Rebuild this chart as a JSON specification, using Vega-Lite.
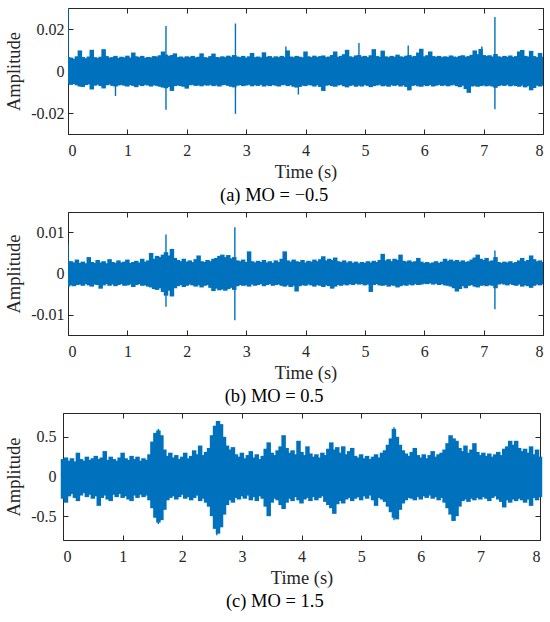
{
  "$schema": "https://vega.github.io/schema/vega-lite/v6.json",
  "padding": {"left": 4, "top": 7, "right": 4, "bottom": 4},
  "background": "white",
  "spacing": 6,
  "config": {
    "view": {"stroke": "#262626", "strokeWidth": 1},
    "axis": {
      "grid": false,
      "domainColor": "#262626",
      "tickColor": "#262626",
      "tickSize": -5,
      "labelFont": "Liberation Serif",
      "labelFontSize": 16,
      "labelColor": "#262626",
      "titleFont": "Liberation Serif",
      "titleFontSize": 18.5,
      "titleFontWeight": "normal",
      "titleColor": "#262626"
    },
    "axisX": {"labelPadding": 13, "titlePadding": 4},
    "axisY": {"labelPadding": 9, "titlePadding": 7},
    "title": {"font": "Liberation Serif", "fontSize": 18.5, "fontWeight": "normal", "color": "#000000"}
  },
  "datasets": {
    "a": [
      {"t":0,"hi":0.0066,"lo":-0.0061},{"t":0.05,"hi":0.0064,"lo":-0.0066},{"t":0.1,"hi":0.0058,"lo":-0.0062},{"t":0.15,"hi":0.007,"lo":-0.0068},
      {"t":0.2,"hi":0.0098,"lo":-0.0074},{"t":0.25,"hi":0.0067,"lo":-0.0076},{"t":0.3,"hi":0.0061,"lo":-0.0067},{"t":0.35,"hi":0.0069,"lo":-0.0064},
      {"t":0.4,"hi":0.0101,"lo":-0.0088},{"t":0.45,"hi":0.0066,"lo":-0.007},{"t":0.5,"hi":0.0062,"lo":-0.0065},{"t":0.55,"hi":0.0068,"lo":-0.0072},
      {"t":0.6,"hi":0.0104,"lo":-0.0083},{"t":0.65,"hi":0.0071,"lo":-0.0068},{"t":0.7,"hi":0.0064,"lo":-0.0065},{"t":0.75,"hi":0.0066,"lo":-0.0071},
      {"t":0.8,"hi":0.0072,"lo":-0.0074},{"t":0.85,"hi":0.0062,"lo":-0.0069},{"t":0.9,"hi":0.0068,"lo":-0.0066},{"t":0.95,"hi":0.0065,"lo":-0.007},
      {"t":1,"hi":0.0073,"lo":-0.0074},{"t":1.05,"hi":0.0064,"lo":-0.0067},{"t":1.1,"hi":0.0088,"lo":-0.0071},{"t":1.15,"hi":0.007,"lo":-0.0077},
      {"t":1.2,"hi":0.0066,"lo":-0.0068},{"t":1.25,"hi":0.0072,"lo":-0.0072},{"t":1.3,"hi":0.0063,"lo":-0.0066},{"t":1.35,"hi":0.0067,"lo":-0.0069},
      {"t":1.4,"hi":0.0065,"lo":-0.0074},{"t":1.45,"hi":0.0071,"lo":-0.0068},{"t":1.5,"hi":0.0069,"lo":-0.0071},{"t":1.55,"hi":0.0075,"lo":-0.0075},
      {"t":1.6,"hi":0.0093,"lo":-0.0079},{"t":1.65,"hi":0.0078,"lo":-0.0082},{"t":1.7,"hi":0.0072,"lo":-0.0076},{"t":1.75,"hi":0.0076,"lo":-0.0095},
      {"t":1.8,"hi":0.0084,"lo":-0.0072},{"t":1.85,"hi":0.0066,"lo":-0.0069},{"t":1.9,"hi":0.0069,"lo":-0.0072},{"t":1.95,"hi":0.0064,"lo":-0.0075},
      {"t":2,"hi":0.007,"lo":-0.0084},{"t":2.05,"hi":0.0066,"lo":-0.0068},{"t":2.1,"hi":0.0072,"lo":-0.0066},{"t":2.15,"hi":0.0065,"lo":-0.0071},
      {"t":2.2,"hi":0.0068,"lo":-0.0069},{"t":2.25,"hi":0.0084,"lo":-0.0073},{"t":2.3,"hi":0.0066,"lo":-0.0067},{"t":2.35,"hi":0.0064,"lo":-0.007},
      {"t":2.4,"hi":0.0071,"lo":-0.0066},{"t":2.45,"hi":0.0083,"lo":-0.0072},{"t":2.5,"hi":0.0067,"lo":-0.0069},{"t":2.55,"hi":0.0065,"lo":-0.0074},
      {"t":2.6,"hi":0.007,"lo":-0.0068},{"t":2.65,"hi":0.0066,"lo":-0.0066},{"t":2.7,"hi":0.0073,"lo":-0.0071},{"t":2.75,"hi":0.0068,"lo":-0.0075},
      {"t":2.8,"hi":0.0076,"lo":-0.0078},{"t":2.85,"hi":0.0069,"lo":-0.007},{"t":2.9,"hi":0.0066,"lo":-0.0067},{"t":2.95,"hi":0.0072,"lo":-0.0072},
      {"t":3,"hi":0.0064,"lo":-0.0069},{"t":3.05,"hi":0.007,"lo":-0.0066},{"t":3.1,"hi":0.0086,"lo":-0.0073},{"t":3.15,"hi":0.0066,"lo":-0.0068},
      {"t":3.2,"hi":0.0069,"lo":-0.0071},{"t":3.25,"hi":0.0065,"lo":-0.0066},{"t":3.3,"hi":0.0089,"lo":-0.0074},{"t":3.35,"hi":0.0068,"lo":-0.0069},
      {"t":3.4,"hi":0.0071,"lo":-0.0072},{"t":3.45,"hi":0.0064,"lo":-0.0067},{"t":3.5,"hi":0.007,"lo":-0.007},{"t":3.55,"hi":0.0066,"lo":-0.0074},
      {"t":3.6,"hi":0.0072,"lo":-0.0068},{"t":3.65,"hi":0.0067,"lo":-0.0066},{"t":3.7,"hi":0.0098,"lo":-0.0072},{"t":3.75,"hi":0.0069,"lo":-0.0068},
      {"t":3.8,"hi":0.0066,"lo":-0.0075},{"t":3.85,"hi":0.0072,"lo":-0.0079},{"t":3.9,"hi":0.0068,"lo":-0.0076},{"t":3.95,"hi":0.0065,"lo":-0.007},
      {"t":4,"hi":0.0093,"lo":-0.0072},{"t":4.05,"hi":0.007,"lo":-0.0066},{"t":4.1,"hi":0.0066,"lo":-0.0069},{"t":4.15,"hi":0.0073,"lo":-0.0074},
      {"t":4.2,"hi":0.0067,"lo":-0.0068},{"t":4.25,"hi":0.0071,"lo":-0.0076},{"t":4.3,"hi":0.0074,"lo":-0.0095},{"t":4.35,"hi":0.0066,"lo":-0.007},
      {"t":4.4,"hi":0.0069,"lo":-0.0067},{"t":4.45,"hi":0.0076,"lo":-0.0072},{"t":4.5,"hi":0.0093,"lo":-0.0075},{"t":4.55,"hi":0.0068,"lo":-0.0069},
      {"t":4.6,"hi":0.0072,"lo":-0.0066},{"t":4.65,"hi":0.008,"lo":-0.0073},{"t":4.7,"hi":0.0101,"lo":-0.0078},{"t":4.75,"hi":0.007,"lo":-0.0071},
      {"t":4.8,"hi":0.0066,"lo":-0.0068},{"t":4.85,"hi":0.0074,"lo":-0.0075},{"t":4.9,"hi":0.0076,"lo":-0.007},{"t":4.95,"hi":0.0069,"lo":-0.0074},
      {"t":5,"hi":0.0072,"lo":-0.0067},{"t":5.05,"hi":0.0066,"lo":-0.0071},{"t":5.1,"hi":0.0075,"lo":-0.0077},{"t":5.15,"hi":0.0104,"lo":-0.0072},
      {"t":5.2,"hi":0.0071,"lo":-0.0069},{"t":5.25,"hi":0.0068,"lo":-0.0066},{"t":5.3,"hi":0.0097,"lo":-0.0073},{"t":5.35,"hi":0.007,"lo":-0.007},
      {"t":5.4,"hi":0.0066,"lo":-0.0075},{"t":5.45,"hi":0.0072,"lo":-0.0068},{"t":5.5,"hi":0.0068,"lo":-0.0071},{"t":5.55,"hi":0.0078,"lo":-0.0067},
      {"t":5.6,"hi":0.007,"lo":-0.0074},{"t":5.65,"hi":0.0067,"lo":-0.0069},{"t":5.7,"hi":0.0073,"lo":-0.0076},{"t":5.75,"hi":0.0076,"lo":-0.0092},
      {"t":5.8,"hi":0.0069,"lo":-0.0071},{"t":5.85,"hi":0.0072,"lo":-0.0068},{"t":5.9,"hi":0.0088,"lo":-0.0073},{"t":5.95,"hi":0.0106,"lo":-0.0075},
      {"t":6,"hi":0.007,"lo":-0.0069},{"t":6.05,"hi":0.0075,"lo":-0.0072},{"t":6.1,"hi":0.0093,"lo":-0.0067},{"t":6.15,"hi":0.0071,"lo":-0.0074},
      {"t":6.2,"hi":0.0068,"lo":-0.007},{"t":6.25,"hi":0.0072,"lo":-0.0066},{"t":6.3,"hi":0.0066,"lo":-0.0071},{"t":6.35,"hi":0.007,"lo":-0.0068},
      {"t":6.4,"hi":0.0067,"lo":-0.0073},{"t":6.45,"hi":0.0074,"lo":-0.0069},{"t":6.5,"hi":0.0069,"lo":-0.0066},{"t":6.55,"hi":0.0066,"lo":-0.0072},
      {"t":6.6,"hi":0.0072,"lo":-0.0077},{"t":6.65,"hi":0.0075,"lo":-0.007},{"t":6.7,"hi":0.0068,"lo":-0.0086},{"t":6.75,"hi":0.0071,"lo":-0.0104},
      {"t":6.8,"hi":0.0077,"lo":-0.0074},{"t":6.85,"hi":0.0098,"lo":-0.0071},{"t":6.9,"hi":0.008,"lo":-0.0075},{"t":6.95,"hi":0.0105,"lo":-0.0072},
      {"t":7,"hi":0.0076,"lo":-0.0069},{"t":7.05,"hi":0.0072,"lo":-0.0073},{"t":7.1,"hi":0.0075,"lo":-0.007},{"t":7.15,"hi":0.0069,"lo":-0.0074},
      {"t":7.2,"hi":0.0081,"lo":-0.008},{"t":7.25,"hi":0.007,"lo":-0.0072},{"t":7.3,"hi":0.0066,"lo":-0.0068},{"t":7.35,"hi":0.0072,"lo":-0.0071},
      {"t":7.4,"hi":0.0068,"lo":-0.0066},{"t":7.45,"hi":0.0074,"lo":-0.0073},{"t":7.5,"hi":0.0067,"lo":-0.0069},{"t":7.55,"hi":0.0071,"lo":-0.0072},
      {"t":7.6,"hi":0.0093,"lo":-0.0075},{"t":7.65,"hi":0.01,"lo":-0.007},{"t":7.7,"hi":0.0072,"lo":-0.0078},{"t":7.75,"hi":0.0069,"lo":-0.0072},
      {"t":7.8,"hi":0.0096,"lo":-0.0092},{"t":7.85,"hi":0.0071,"lo":-0.0081},{"t":7.9,"hi":0.0066,"lo":-0.007},{"t":7.95,"hi":0.0086,"lo":-0.0074},
      {"t":8,"hi":0.0068,"lo":-0.0069}
    ],
    "as": [
      {"t":0,"hi":0.03,"lo":0},{"t":0.8,"hi":0,"lo":-0.0119},{"t":1.65,"hi":0.0214,"lo":-0.0185},{"t":2.82,"hi":0.0226,"lo":-0.0204},
      {"t":3.67,"hi":0.0117,"lo":0},{"t":3.88,"hi":0,"lo":-0.0112},{"t":4.9,"hi":0.0133,"lo":0},{"t":5.73,"hi":0.0122,"lo":-0.0092},
      {"t":6.97,"hi":0.0117,"lo":0},{"t":7.19,"hi":0.0257,"lo":-0.0182}
    ],
    "b": [
      {"t":0,"hi":0.003,"lo":-0.0032},{"t":0.05,"hi":0.003,"lo":-0.0029},{"t":0.1,"hi":0.0027,"lo":-0.0031},{"t":0.15,"hi":0.0034,"lo":-0.0028},
      {"t":0.2,"hi":0.0026,"lo":-0.0027},{"t":0.25,"hi":0.0029,"lo":-0.003},{"t":0.3,"hi":0.0025,"lo":-0.0026},{"t":0.35,"hi":0.004,"lo":-0.0029},
      {"t":0.4,"hi":0.0028,"lo":-0.0032},{"t":0.45,"hi":0.0026,"lo":-0.0027},{"t":0.5,"hi":0.0033,"lo":-0.0028},{"t":0.55,"hi":0.0027,"lo":-0.0037},
      {"t":0.6,"hi":0.003,"lo":-0.0029},{"t":0.65,"hi":0.0025,"lo":-0.0026},{"t":0.7,"hi":0.0035,"lo":-0.003},{"t":0.75,"hi":0.0028,"lo":-0.0027},
      {"t":0.8,"hi":0.0026,"lo":-0.0031},{"t":0.85,"hi":0.0032,"lo":-0.0028},{"t":0.9,"hi":0.0027,"lo":-0.0026},{"t":0.95,"hi":0.0029,"lo":-0.003},
      {"t":1,"hi":0.0034,"lo":-0.0029},{"t":1.05,"hi":0.0026,"lo":-0.0027},{"t":1.1,"hi":0.0028,"lo":-0.0033},{"t":1.15,"hi":0.0031,"lo":-0.0028},
      {"t":1.2,"hi":0.0027,"lo":-0.0026},{"t":1.25,"hi":0.0036,"lo":-0.003},{"t":1.3,"hi":0.0029,"lo":-0.0029},{"t":1.35,"hi":0.0032,"lo":-0.0032},
      {"t":1.4,"hi":0.005,"lo":-0.0034},{"t":1.45,"hi":0.0036,"lo":-0.0038},{"t":1.5,"hi":0.0043,"lo":-0.004},{"t":1.55,"hi":0.004,"lo":-0.0036},
      {"t":1.6,"hi":0.0046,"lo":-0.0045},{"t":1.65,"hi":0.0052,"lo":-0.0054},{"t":1.7,"hi":0.0044,"lo":-0.0042},{"t":1.75,"hi":0.006,"lo":-0.0056},
      {"t":1.8,"hi":0.0038,"lo":-0.0036},{"t":1.85,"hi":0.0033,"lo":-0.0031},{"t":1.9,"hi":0.003,"lo":-0.0028},{"t":1.95,"hi":0.0036,"lo":-0.0033},
      {"t":2,"hi":0.0029,"lo":-0.003},{"t":2.05,"hi":0.0032,"lo":-0.0027},{"t":2.1,"hi":0.0028,"lo":-0.0029},{"t":2.15,"hi":0.0035,"lo":-0.0032},
      {"t":2.2,"hi":0.0044,"lo":-0.0029},{"t":2.25,"hi":0.003,"lo":-0.0034},{"t":2.3,"hi":0.0028,"lo":-0.003},{"t":2.35,"hi":0.0033,"lo":-0.0028},
      {"t":2.4,"hi":0.003,"lo":-0.0035},{"t":2.45,"hi":0.0036,"lo":-0.0043},{"t":2.5,"hi":0.0038,"lo":-0.0037},{"t":2.55,"hi":0.0043,"lo":-0.0041},
      {"t":2.6,"hi":0.0046,"lo":-0.0039},{"t":2.65,"hi":0.004,"lo":-0.0042},{"t":2.7,"hi":0.0045,"lo":-0.0038},{"t":2.75,"hi":0.0037,"lo":-0.0035},
      {"t":2.8,"hi":0.004,"lo":-0.004},{"t":2.85,"hi":0.0032,"lo":-0.0031},{"t":2.9,"hi":0.003,"lo":-0.0028},{"t":2.95,"hi":0.0034,"lo":-0.003},
      {"t":3,"hi":0.0028,"lo":-0.0029},{"t":3.05,"hi":0.0054,"lo":-0.0032},{"t":3.1,"hi":0.003,"lo":-0.0027},{"t":3.15,"hi":0.0027,"lo":-0.003},
      {"t":3.2,"hi":0.0031,"lo":-0.0028},{"t":3.25,"hi":0.0028,"lo":-0.0026},{"t":3.3,"hi":0.0033,"lo":-0.0031},{"t":3.35,"hi":0.0027,"lo":-0.0028},
      {"t":3.4,"hi":0.003,"lo":-0.0026},{"t":3.45,"hi":0.0026,"lo":-0.003},{"t":3.5,"hi":0.0032,"lo":-0.0028},{"t":3.55,"hi":0.0028,"lo":-0.0027},
      {"t":3.6,"hi":0.0036,"lo":-0.003},{"t":3.65,"hi":0.0054,"lo":-0.0032},{"t":3.7,"hi":0.0032,"lo":-0.0029},{"t":3.75,"hi":0.0029,"lo":-0.0033},
      {"t":3.8,"hi":0.0034,"lo":-0.003},{"t":3.85,"hi":0.003,"lo":-0.0044},{"t":3.9,"hi":0.0028,"lo":-0.0031},{"t":3.95,"hi":0.0033,"lo":-0.0028},
      {"t":4,"hi":0.0027,"lo":-0.003},{"t":4.05,"hi":0.0031,"lo":-0.0027},{"t":4.1,"hi":0.0029,"lo":-0.0029},{"t":4.15,"hi":0.0034,"lo":-0.0032},
      {"t":4.2,"hi":0.003,"lo":-0.0028},{"t":4.25,"hi":0.0035,"lo":-0.003},{"t":4.3,"hi":0.0042,"lo":-0.0033},{"t":4.35,"hi":0.0032,"lo":-0.0029},
      {"t":4.4,"hi":0.0036,"lo":-0.0031},{"t":4.45,"hi":0.0033,"lo":-0.0037},{"t":4.5,"hi":0.0039,"lo":-0.0032},{"t":4.55,"hi":0.003,"lo":-0.0028},
      {"t":4.6,"hi":0.0028,"lo":-0.003},{"t":4.65,"hi":0.0032,"lo":-0.0027},{"t":4.7,"hi":0.0027,"lo":-0.0029},{"t":4.75,"hi":0.003,"lo":-0.0026},
      {"t":4.8,"hi":0.0026,"lo":-0.0028},{"t":4.85,"hi":0.0029,"lo":-0.0025},{"t":4.9,"hi":0.0025,"lo":-0.0027},{"t":4.95,"hi":0.0028,"lo":-0.0026},
      {"t":5,"hi":0.0026,"lo":-0.0029},{"t":5.05,"hi":0.003,"lo":-0.0027},{"t":5.1,"hi":0.0027,"lo":-0.0045},{"t":5.15,"hi":0.0031,"lo":-0.0028},
      {"t":5.2,"hi":0.0028,"lo":-0.0026},{"t":5.25,"hi":0.0033,"lo":-0.0029},{"t":5.3,"hi":0.0048,"lo":-0.003},{"t":5.35,"hi":0.0032,"lo":-0.0028},
      {"t":5.4,"hi":0.0035,"lo":-0.0032},{"t":5.45,"hi":0.003,"lo":-0.0029},{"t":5.5,"hi":0.0036,"lo":-0.003},{"t":5.55,"hi":0.0033,"lo":-0.0034},
      {"t":5.6,"hi":0.0046,"lo":-0.0031},{"t":5.65,"hi":0.0031,"lo":-0.0028},{"t":5.7,"hi":0.0029,"lo":-0.003},{"t":5.75,"hi":0.0032,"lo":-0.0027},
      {"t":5.8,"hi":0.0028,"lo":-0.0029},{"t":5.85,"hi":0.003,"lo":-0.0026},{"t":5.9,"hi":0.0038,"lo":-0.0028},{"t":5.95,"hi":0.0029,"lo":-0.0027},
      {"t":6,"hi":0.0026,"lo":-0.0025},{"t":6.05,"hi":0.0028,"lo":-0.0026},{"t":6.1,"hi":0.0025,"lo":-0.0024},{"t":6.15,"hi":0.0027,"lo":-0.0027},
      {"t":6.2,"hi":0.003,"lo":-0.0025},{"t":6.25,"hi":0.0026,"lo":-0.0028},{"t":6.3,"hi":0.0029,"lo":-0.0026},{"t":6.35,"hi":0.0036,"lo":-0.0029},
      {"t":6.4,"hi":0.0031,"lo":-0.003},{"t":6.45,"hi":0.0034,"lo":-0.0032},{"t":6.5,"hi":0.003,"lo":-0.0036},{"t":6.55,"hi":0.0033,"lo":-0.0044},
      {"t":6.6,"hi":0.0029,"lo":-0.0038},{"t":6.65,"hi":0.0032,"lo":-0.0031},{"t":6.7,"hi":0.0028,"lo":-0.0036},{"t":6.75,"hi":0.003,"lo":-0.003},
      {"t":6.8,"hi":0.0034,"lo":-0.0028},{"t":6.85,"hi":0.0039,"lo":-0.0032},{"t":6.9,"hi":0.0046,"lo":-0.0034},{"t":6.95,"hi":0.0036,"lo":-0.003},
      {"t":7,"hi":0.0033,"lo":-0.0029},{"t":7.05,"hi":0.0038,"lo":-0.0031},{"t":7.1,"hi":0.003,"lo":-0.0028},{"t":7.15,"hi":0.0032,"lo":-0.003},
      {"t":7.2,"hi":0.004,"lo":-0.0036},{"t":7.25,"hi":0.0028,"lo":-0.0027},{"t":7.3,"hi":0.0026,"lo":-0.0025},{"t":7.35,"hi":0.0029,"lo":-0.0027},
      {"t":7.4,"hi":0.0027,"lo":-0.0029},{"t":7.45,"hi":0.003,"lo":-0.0026},{"t":7.5,"hi":0.0026,"lo":-0.0028},{"t":7.55,"hi":0.0028,"lo":-0.003},
      {"t":7.6,"hi":0.0032,"lo":-0.0027},{"t":7.65,"hi":0.0038,"lo":-0.0032},{"t":7.7,"hi":0.003,"lo":-0.0029},{"t":7.75,"hi":0.0033,"lo":-0.0031},
      {"t":7.8,"hi":0.0044,"lo":-0.0035},{"t":7.85,"hi":0.0035,"lo":-0.003},{"t":7.9,"hi":0.003,"lo":-0.0027},{"t":7.95,"hi":0.0032,"lo":-0.0029},
      {"t":8,"hi":0.0028,"lo":-0.0026}
    ],
    "bs": [
      {"t":0,"hi":0.007,"lo":0},{"t":1.65,"hi":0.0095,"lo":-0.0081},{"t":2.81,"hi":0.0113,"lo":-0.0114},{"t":7.19,"hi":0.0056,"lo":-0.0087}
    ],
    "c": [
      {"t":0,"hi":0.22,"lo":-0.28},{"t":0.05,"hi":0.24,"lo":-0.33},{"t":0.1,"hi":0.2,"lo":-0.25},{"t":0.15,"hi":0.23,"lo":-0.22},
      {"t":0.2,"hi":0.19,"lo":-0.27},{"t":0.25,"hi":0.3,"lo":-0.31},{"t":0.3,"hi":0.22,"lo":-0.24},{"t":0.35,"hi":0.2,"lo":-0.21},
      {"t":0.4,"hi":0.25,"lo":-0.26},{"t":0.45,"hi":0.21,"lo":-0.23},{"t":0.5,"hi":0.23,"lo":-0.28},{"t":0.55,"hi":0.26,"lo":-0.25},
      {"t":0.6,"hi":0.22,"lo":-0.37},{"t":0.65,"hi":0.24,"lo":-0.27},{"t":0.7,"hi":0.32,"lo":-0.24},{"t":0.75,"hi":0.21,"lo":-0.29},
      {"t":0.8,"hi":0.25,"lo":-0.31},{"t":0.85,"hi":0.22,"lo":-0.23},{"t":0.9,"hi":0.2,"lo":-0.26},{"t":0.95,"hi":0.24,"lo":-0.22},
      {"t":1,"hi":0.3,"lo":-0.27},{"t":1.05,"hi":0.23,"lo":-0.25},{"t":1.1,"hi":0.21,"lo":-0.29},{"t":1.15,"hi":0.26,"lo":-0.31},
      {"t":1.2,"hi":0.22,"lo":-0.24},{"t":1.25,"hi":0.25,"lo":-0.27},{"t":1.3,"hi":0.2,"lo":-0.23},{"t":1.35,"hi":0.23,"lo":-0.26},
      {"t":1.4,"hi":0.21,"lo":-0.24},{"t":1.45,"hi":0.28,"lo":-0.3},{"t":1.5,"hi":0.44,"lo":-0.4},{"t":1.55,"hi":0.55,"lo":-0.52},
      {"t":1.6,"hi":0.58,"lo":-0.58},{"t":1.65,"hi":0.52,"lo":-0.55},{"t":1.7,"hi":0.34,"lo":-0.42},{"t":1.75,"hi":0.26,"lo":-0.3},
      {"t":1.8,"hi":0.3,"lo":-0.27},{"t":1.85,"hi":0.24,"lo":-0.25},{"t":1.9,"hi":0.27,"lo":-0.29},{"t":1.95,"hi":0.22,"lo":-0.26},
      {"t":2,"hi":0.25,"lo":-0.23},{"t":2.05,"hi":0.3,"lo":-0.28},{"t":2.1,"hi":0.23,"lo":-0.26},{"t":2.15,"hi":0.26,"lo":-0.3},
      {"t":2.2,"hi":0.33,"lo":-0.27},{"t":2.25,"hi":0.28,"lo":-0.24},{"t":2.3,"hi":0.39,"lo":-0.31},{"t":2.35,"hi":0.27,"lo":-0.28},
      {"t":2.4,"hi":0.31,"lo":-0.33},{"t":2.45,"hi":0.36,"lo":-0.38},{"t":2.5,"hi":0.52,"lo":-0.5},{"t":2.55,"hi":0.64,"lo":-0.66},
      {"t":2.6,"hi":0.7,"lo":-0.72},{"t":2.65,"hi":0.66,"lo":-0.64},{"t":2.7,"hi":0.5,"lo":-0.48},{"t":2.75,"hi":0.39,"lo":-0.36},
      {"t":2.8,"hi":0.34,"lo":-0.3},{"t":2.85,"hi":0.37,"lo":-0.33},{"t":2.9,"hi":0.28,"lo":-0.27},{"t":2.95,"hi":0.25,"lo":-0.29},
      {"t":3,"hi":0.3,"lo":-0.25},{"t":3.05,"hi":0.23,"lo":-0.28},{"t":3.1,"hi":0.27,"lo":-0.24},{"t":3.15,"hi":0.32,"lo":-0.3},
      {"t":3.2,"hi":0.24,"lo":-0.26},{"t":3.25,"hi":0.28,"lo":-0.31},{"t":3.3,"hi":0.22,"lo":-0.25},{"t":3.35,"hi":0.26,"lo":-0.28},
      {"t":3.4,"hi":0.35,"lo":-0.38},{"t":3.45,"hi":0.43,"lo":-0.5},{"t":3.5,"hi":0.3,"lo":-0.33},{"t":3.55,"hi":0.27,"lo":-0.28},
      {"t":3.6,"hi":0.33,"lo":-0.3},{"t":3.65,"hi":0.38,"lo":-0.36},{"t":3.7,"hi":0.52,"lo":-0.41},{"t":3.75,"hi":0.36,"lo":-0.33},
      {"t":3.8,"hi":0.3,"lo":-0.28},{"t":3.85,"hi":0.33,"lo":-0.31},{"t":3.9,"hi":0.28,"lo":-0.26},{"t":3.95,"hi":0.45,"lo":-0.3},
      {"t":4,"hi":0.31,"lo":-0.34},{"t":4.05,"hi":0.27,"lo":-0.29},{"t":4.1,"hi":0.38,"lo":-0.27},{"t":4.15,"hi":0.29,"lo":-0.31},
      {"t":4.2,"hi":0.25,"lo":-0.26},{"t":4.25,"hi":0.28,"lo":-0.3},{"t":4.3,"hi":0.24,"lo":-0.27},{"t":4.35,"hi":0.3,"lo":-0.25},
      {"t":4.4,"hi":0.27,"lo":-0.32},{"t":4.45,"hi":0.35,"lo":-0.36},{"t":4.5,"hi":0.43,"lo":-0.4},{"t":4.55,"hi":0.34,"lo":-0.47},
      {"t":4.6,"hi":0.37,"lo":-0.35},{"t":4.65,"hi":0.3,"lo":-0.31},{"t":4.7,"hi":0.38,"lo":-0.34},{"t":4.75,"hi":0.28,"lo":-0.29},
      {"t":4.8,"hi":0.32,"lo":-0.27},{"t":4.85,"hi":0.36,"lo":-0.31},{"t":4.9,"hi":0.26,"lo":-0.28},{"t":4.95,"hi":0.24,"lo":-0.26},
      {"t":5,"hi":0.28,"lo":-0.3},{"t":5.05,"hi":0.23,"lo":-0.25},{"t":5.1,"hi":0.26,"lo":-0.28},{"t":5.15,"hi":0.22,"lo":-0.24},
      {"t":5.2,"hi":0.25,"lo":-0.3},{"t":5.25,"hi":0.28,"lo":-0.37},{"t":5.3,"hi":0.24,"lo":-0.27},{"t":5.35,"hi":0.3,"lo":-0.29},
      {"t":5.4,"hi":0.33,"lo":-0.32},{"t":5.45,"hi":0.4,"lo":-0.38},{"t":5.5,"hi":0.48,"lo":-0.45},{"t":5.55,"hi":0.6,"lo":-0.52},
      {"t":5.6,"hi":0.5,"lo":-0.54},{"t":5.65,"hi":0.4,"lo":-0.42},{"t":5.7,"hi":0.33,"lo":-0.34},{"t":5.75,"hi":0.29,"lo":-0.3},
      {"t":5.8,"hi":0.26,"lo":-0.27},{"t":5.85,"hi":0.31,"lo":-0.28},{"t":5.9,"hi":0.36,"lo":-0.3},{"t":5.95,"hi":0.27,"lo":-0.26},
      {"t":6,"hi":0.24,"lo":-0.29},{"t":6.05,"hi":0.28,"lo":-0.25},{"t":6.1,"hi":0.23,"lo":-0.27},{"t":6.15,"hi":0.27,"lo":-0.24},
      {"t":6.2,"hi":0.32,"lo":-0.28},{"t":6.25,"hi":0.25,"lo":-0.26},{"t":6.3,"hi":0.28,"lo":-0.3},{"t":6.35,"hi":0.3,"lo":-0.27},
      {"t":6.4,"hi":0.34,"lo":-0.33},{"t":6.45,"hi":0.42,"lo":-0.4},{"t":6.5,"hi":0.52,"lo":-0.48},{"t":6.55,"hi":0.48,"lo":-0.56},
      {"t":6.6,"hi":0.45,"lo":-0.5},{"t":6.65,"hi":0.36,"lo":-0.38},{"t":6.7,"hi":0.32,"lo":-0.31},{"t":6.75,"hi":0.39,"lo":-0.29},
      {"t":6.8,"hi":0.3,"lo":-0.32},{"t":6.85,"hi":0.34,"lo":-0.28},{"t":6.9,"hi":0.42,"lo":-0.3},{"t":6.95,"hi":0.31,"lo":-0.27},
      {"t":7,"hi":0.27,"lo":-0.29},{"t":7.05,"hi":0.3,"lo":-0.26},{"t":7.1,"hi":0.26,"lo":-0.28},{"t":7.15,"hi":0.29,"lo":-0.31},
      {"t":7.2,"hi":0.25,"lo":-0.27},{"t":7.25,"hi":0.28,"lo":-0.25},{"t":7.3,"hi":0.31,"lo":-0.29},{"t":7.35,"hi":0.27,"lo":-0.32},
      {"t":7.4,"hi":0.35,"lo":-0.39},{"t":7.45,"hi":0.38,"lo":-0.3},{"t":7.5,"hi":0.45,"lo":-0.33},{"t":7.55,"hi":0.4,"lo":-0.29},
      {"t":7.6,"hi":0.45,"lo":-0.31},{"t":7.65,"hi":0.36,"lo":-0.28},{"t":7.7,"hi":0.32,"lo":-0.3},{"t":7.75,"hi":0.35,"lo":-0.33},
      {"t":7.8,"hi":0.3,"lo":-0.29},{"t":7.85,"hi":0.38,"lo":-0.37},{"t":7.9,"hi":0.28,"lo":-0.27},{"t":7.95,"hi":0.34,"lo":-0.3},
      {"t":8,"hi":0.25,"lo":-0.26}
    ],
    "cs": [
      {"t":1.6,"hi":0.6,"lo":-0.6},{"t":2.58,"hi":0.68,"lo":-0.74},{"t":5.55,"hi":0.62,"lo":-0.55}
    ]
  },
  "vconcat": [
    {
      "width": 475,
      "height": 126,
      "title": {"text": "(a) MO = −0.5", "orient": "bottom", "anchor": "middle", "frame": "bounds", "offset": 5},
      "resolve": {"axis": {"x": "independent", "y": "independent"}},
      "layer": [
        {
          "data": {"name": "a"},
          "mark": {"type": "rule", "strokeWidth": 4.5, "color": "#0072BD", "clip": true},
          "encoding": {
            "x": {"field": "t", "type": "quantitative", "scale": {"domain": [0, 8], "nice": false},
                  "axis": {"values": [0, 1, 2, 3, 4, 5, 6, 7, 8], "title": "Time (s)"}},
            "y": {"field": "hi", "type": "quantitative", "scale": {"domain": [-0.03, 0.03], "nice": false, "zero": false},
                  "axis": {"values": [-0.02, 0, 0.02], "format": "~g", "labelExpr": "replace(datum.label, '−', '-')", "title": "Amplitude"}},
            "y2": {"field": "lo"}
          }
        },
        {
          "data": {"name": "as"},
          "mark": {"type": "rule", "strokeWidth": 1.4, "color": "#0072BD", "clip": true},
          "encoding": {
            "x": {"field": "t", "type": "quantitative", "axis": {"orient": "top", "values": [0, 1, 2, 3, 4, 5, 6, 7, 8], "labels": false, "title": null}},
            "y": {"field": "hi", "type": "quantitative", "axis": {"orient": "right", "values": [-0.02, 0, 0.02], "labels": false, "title": null}},
            "y2": {"field": "lo"}
          }
        }
      ]
    },
    {
      "width": 475,
      "height": 123,
      "title": {"text": "(b) MO = 0.5", "orient": "bottom", "anchor": "middle", "frame": "bounds", "offset": 5},
      "resolve": {"axis": {"x": "independent", "y": "independent"}},
      "layer": [
        {
          "data": {"name": "b"},
          "mark": {"type": "rule", "strokeWidth": 4.5, "color": "#0072BD", "clip": true},
          "encoding": {
            "x": {"field": "t", "type": "quantitative", "scale": {"domain": [0, 8], "nice": false},
                  "axis": {"values": [0, 1, 2, 3, 4, 5, 6, 7, 8], "title": "Time (s)"}},
            "y": {"field": "hi", "type": "quantitative", "scale": {"domain": [-0.015, 0.015], "nice": false, "zero": false},
                  "axis": {"values": [-0.01, 0, 0.01], "format": "~g", "labelExpr": "replace(datum.label, '−', '-')", "title": "Amplitude"}},
            "y2": {"field": "lo"}
          }
        },
        {
          "data": {"name": "bs"},
          "mark": {"type": "rule", "strokeWidth": 1.4, "color": "#0072BD", "clip": true},
          "encoding": {
            "x": {"field": "t", "type": "quantitative", "axis": {"orient": "top", "values": [0, 1, 2, 3, 4, 5, 6, 7, 8], "labels": false, "title": null}},
            "y": {"field": "hi", "type": "quantitative", "axis": {"orient": "right", "values": [-0.01, 0, 0.01], "labels": false, "title": null}},
            "y2": {"field": "lo"}
          }
        }
      ]
    },
    {
      "width": 472,
      "height": 127,
      "view": {"stroke": null},
      "title": {"text": "(c) MO = 1.5", "orient": "bottom", "anchor": "middle", "frame": "bounds", "offset": 5},
      "resolve": {"axis": {"x": "independent", "y": "independent"}},
      "layer": [
        {
          "data": {"name": "c"},
          "mark": {"type": "rule", "strokeWidth": 4.5, "color": "#0072BD", "clip": false},
          "encoding": {
            "x": {"field": "t", "type": "quantitative", "scale": {"domain": [0, 8], "range": [-5, 472], "nice": false},
                  "axis": {"values": [0, 1, 2, 3, 4, 5, 6, 7, 8], "title": "Time (s)"}},
            "y": {"field": "hi", "type": "quantitative", "scale": {"domain": [-0.8, 0.8], "nice": false, "zero": false},
                  "axis": {"values": [-0.5, 0, 0.5], "format": "~g", "labelExpr": "replace(datum.label, '−', '-')", "title": "Amplitude", "labelPadding": 12, "offset": 5}},
            "y2": {"field": "lo"}
          }
        },
        {
          "data": {"name": "cs"},
          "mark": {"type": "rule", "strokeWidth": 1.4, "color": "#0072BD", "clip": false},
          "encoding": {
            "x": {"field": "t", "type": "quantitative", "axis": {"orient": "top", "values": [0, 1, 2, 3, 4, 5, 6, 7, 8], "labels": false, "title": null}},
            "y": {"field": "hi", "type": "quantitative", "axis": {"orient": "right", "values": [-0.5, 0, 0.5], "labels": false, "title": null}},
            "y2": {"field": "lo"}
          }
        }
      ]
    }
  ]
}
